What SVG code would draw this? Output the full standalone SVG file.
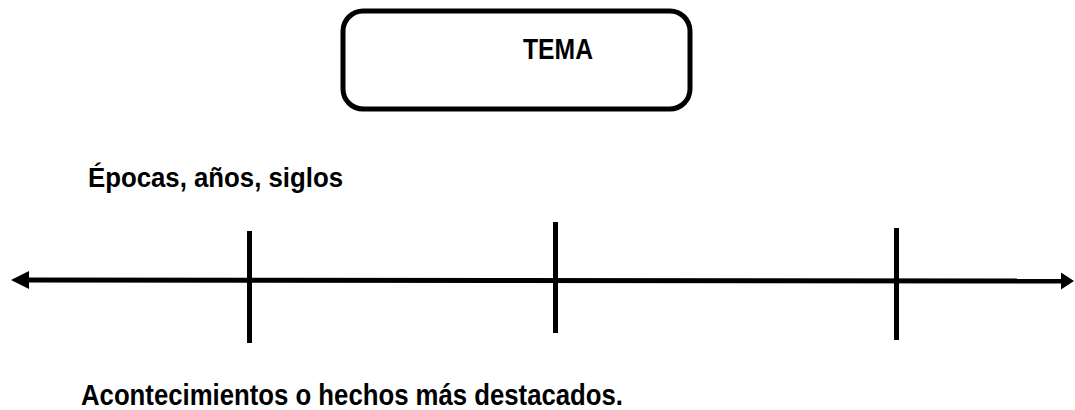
<svg xmlns="http://www.w3.org/2000/svg" width="1075" height="410" viewBox="0 0 1075 410">
<style>
.t{font-family:"Liberation Sans",Arial,sans-serif;font-weight:bold;fill:#000}
.ln{stroke:#000;stroke-width:5;fill:none}
.ah{fill:#000}
</style>
<rect width="1075" height="410" fill="#fff"/>
<g id="tema">
<rect x="343" y="11" width="347" height="98" rx="20" ry="20" class="ln"/>
<text x="523" y="59" class="t" font-size="29" textLength="70" lengthAdjust="spacingAndGlyphs">TEMA</text>
</g>
<g id="connectors">
<line x1="24" y1="280" x2="1064" y2="281" class="ln"/>
<path class="ah" d="M11,280 L29,271 L29,289 Z"/>
<path class="ah" d="M1074,281 L1061,272.5 L1061,289.5 Z"/>
<line x1="249.5" y1="231" x2="249.5" y2="343" class="ln"/>
<line x1="555.5" y1="222" x2="555.5" y2="333" class="ln"/>
<line x1="896.5" y1="228" x2="896.5" y2="340" class="ln"/>
</g>
<g id="labels">
<text x="88" y="187" class="t" font-size="27" textLength="255" lengthAdjust="spacingAndGlyphs">Épocas, años, siglos</text>
<text x="81" y="405" class="t" font-size="29" textLength="542" lengthAdjust="spacingAndGlyphs">Acontecimientos o hechos más destacados.</text>
</g>
</svg>
